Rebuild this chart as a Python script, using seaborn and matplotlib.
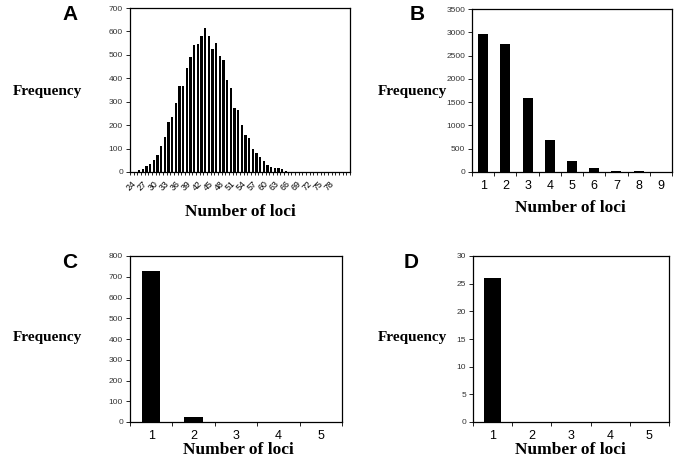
import matplotlib
matplotlib.use("Agg")
import matplotlib.pyplot as plt
import matplotlib.ticker as mtick
import numpy as np
import seaborn as sns

sns.set_style("ticks")
plt.rcParams['font.family'] = ['Liberation Sans', 'DejaVu Sans']
plt.rcParams.update({'text.color': 'black', 'axes.edgecolor': 'black',
                     'xtick.color': 'black', 'ytick.color': 'black'})

# panel A: number of loci 24..83
loci_a = list(range(24, 84))
freq_a = [0, 2, 8, 13, 27, 33, 53, 72, 110, 150,
          215, 235, 295, 368, 365, 442, 492, 540, 545, 580,
          613, 580, 523, 552, 493, 476, 392, 357, 275, 265,
          200, 160, 143, 100, 80, 65, 45, 32, 22, 17,
          17, 12, 5, 2, 1, 0, 0, 0, 0, 0,
          0, 0, 0, 0, 0, 0, 0, 0, 0, 0]
labels_a = list(range(24, 79, 3))

# panel B
loci_b = [1, 2, 3, 4, 5, 6, 7, 8, 9]
freq_b = [2955, 2740, 1585, 692, 230, 85, 28, 14, 0]

# panel C
loci_c = [1, 2, 3, 4, 5]
freq_c = [729, 24, 1, 0, 0]

# panel D
loci_d = [1, 2, 3, 4, 5]
freq_d = [26, 0, 0, 0, 0]

W, H = 679, 462
fig = plt.figure(figsize=(W / 100, H / 100), dpi=100)


def box(l, t, r, b):
    return [l / W, 1 - b / H, (r - l) / W, (b - t) / H]


serif = dict(family=['Liberation Serif', 'DejaVu Serif'], weight='bold')


def panel(rect, loci, freq, ymax, ystep, width, letter, letter_xy, freq_xy, xlab_xy,
          ticksize=6, labels=None, rot=0):
    ax = fig.add_axes(box(*rect))
    sns.barplot(x=[str(v) for v in loci], y=freq, color='black', width=width,
                saturation=1, ax=ax, linewidth=0)
    n = len(loci)
    ax.set_xlim(-0.5, n - 0.5)
    ax.set_ylim(0, ymax)
    ax.set_yticks(np.arange(0, ymax + 1, ystep))
    ax.tick_params(axis='y', labelsize=ticksize, length=3, width=0.6, pad=2,
                   labelcolor='#333333')
    # category boundary ticks like the original
    ax.xaxis.set_minor_locator(mtick.FixedLocator(np.arange(-0.5, n, 1)))
    ax.tick_params(axis='x', which='minor', length=3, width=0.6)
    if labels is None:
        ax.set_xticks(range(n))
        ax.set_xticklabels([str(v) for v in loci])
    else:
        ax.set_xticks([loci.index(v) for v in labels])
        ax.set_xticklabels([str(v) for v in labels], rotation=rot,
                           ha='right', rotation_mode='anchor')
    ax.tick_params(axis='x', which='major', length=0, labelsize=ticksize + 3, pad=6)
    for s in ax.spines.values():
        s.set_linewidth(0.9)
        s.set_visible(True)
    ax.set_xlabel('')
    ax.set_ylabel('')
    fig.text(letter_xy[0] / W, 1 - letter_xy[1] / H, letter, fontsize=15,
             fontweight='bold', ha='center', va='center')
    fig.text(freq_xy[0] / W, 1 - freq_xy[1] / H, 'Frequency', fontsize=11,
             ha='center', va='center', **serif)
    fig.text(xlab_xy[0] / W, 1 - xlab_xy[1] / H, 'Number of loci', fontsize=12.5,
             ha='center', va='center', **serif)
    return ax


axA = panel((130, 8, 350, 172), loci_a, freq_a, 700, 100, 0.55, 'A',
            (70, 14), (47, 92), (240, 212), labels=labels_a, rot=45)
axA.tick_params(axis='x', which='major', labelsize=6.3, pad=5)
axA.tick_params(axis='x', which='minor', length=2)

panel((472, 9, 672, 172), loci_b, freq_b, 3500, 500, 0.45, 'B',
      (417, 15), (412, 92), (570, 208))
panel((130, 256, 342, 422), loci_c, freq_c, 800, 100, 0.43, 'C',
      (70, 263), (47, 337), (238, 450))
panel((473, 256, 669, 422), loci_d, freq_d, 30, 5, 0.42, 'D',
      (411, 263), (412, 337), (570, 450))

fig.savefig('out.png', dpi=100)
